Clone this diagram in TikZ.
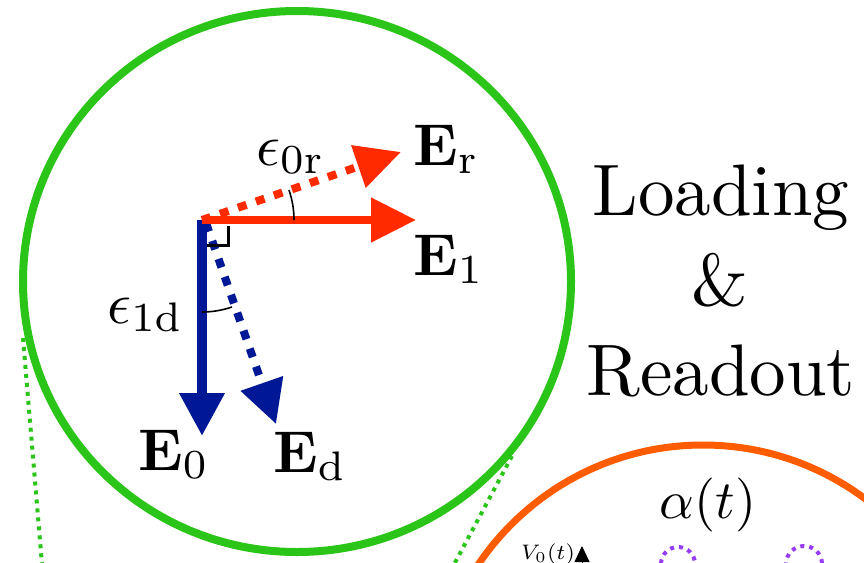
\RequirePackage{fix-cm}
\documentclass[tikz,border=0pt]{standalone}
\usepackage{graphicx}
\usetikzlibrary{arrows.meta}
\definecolor{cgreen}{RGB}{43,196,24}
\definecolor{cred}{RGB}{255,42,0}
\definecolor{cblue}{RGB}{0,24,150}
\definecolor{corange}{RGB}{255,92,0}
\definecolor{cpurple}{RGB}{150,60,245}
\begin{document}
\begin{tikzpicture}[x=1pt,y=-1pt,
  lbl/.style={inner sep=0pt, anchor=base west, font=\fontsize{10}{12}\selectfont},
  bigtxt/.style={inner sep=0pt, anchor=base, font=\fontsize{10}{12}\selectfont},
  redvec/.style={cred, line width=8pt, -{Triangle[length=45pt,width=43pt]}},
  bluevec/.style={cblue, line width=10pt, -{Triangle[length=43pt,width=43pt]}},
  dotted vec/.style={dash pattern=on 9pt off 10pt},
  anglemark/.style={black, line width=1.6pt},
  zoomline/.style={cgreen, line width=4pt, dash pattern=on 4pt off 5pt}]
\useasboundingbox (0,0) rectangle (864,562);
\clip (0,0) rectangle (864,562);
% zoom guide lines
\coordinate (gl1) at (23,338);
\coordinate (gl2) at (45,600);
\coordinate (gr1) at (512,456);
\coordinate (gr2) at (435,600);
\draw[zoomline] (gl1) -- (gl2);
\draw[zoomline] (gr1) -- (gr2);
% green circle
\coordinate (gc) at (297,281.5);
\draw[cgreen, line width=8pt] (gc) ellipse[x radius=274, y radius=270.5];
% orange circle
\coordinate (oc) at (703,716);
\draw[corange, line width=7pt] (oc) circle[radius=271];
% vectors
\coordinate (O) at (202,220);
\coordinate (Od) at (206,223);
\coordinate (T1) at (416,220);
\coordinate (Tr) at (401,152);
\coordinate (T0) at (202,436);
\coordinate (Td) at (276,424);
\draw[redvec, dotted vec] (O) -- (Tr);
\draw[bluevec, line width=8pt, dotted vec] (Od) -- (Td);
\draw[bluevec] (O) -- (T0);
\draw[redvec] (O) -- (T1);
% right angle marker
\coordinate (ra1) at (228,226);
\coordinate (ra2) at (228,245);
\coordinate (ra3) at (207,245);
\draw[anglemark, line width=3pt] (ra1) -- (ra2) -- (ra3);
% angle arcs
\draw[anglemark] ([shift={(0:92)}]O) arc[start angle=0, end angle=-19, radius=92];
\draw[anglemark] ([shift={(90:92)}]O) arc[start angle=90, end angle=71, radius=92];
% labels
\node[lbl] (lEr) at (413,165) {\scalebox{5.9}{$\mathbf{E}_{\mathrm{r}}$}};
\node[lbl] (lE1) at (413,275) {\scalebox{5.9}{$\mathbf{E}_{1}$}};
\node[lbl] (lE0) at (138,470) {\scalebox{5.9}{$\mathbf{E}_{0}$}};
\node[lbl] (lEd) at (273,472) {\scalebox{5.9}{$\mathbf{E}_{\mathrm{d}}$}};
\node[lbl] (l0r) at (256,165) {\scalebox{5.9}{$\epsilon_{0\mathrm{r}}$}};
\node[lbl] (l1d) at (107,323) {\scalebox{5.9}{$\epsilon_{1\mathrm{d}}$}};
% side text
\node[bigtxt] (t1) at (721,215) {\scalebox{7.3}{Loading}};
\node[bigtxt] (t2) at (720,305) {\scalebox{7.3}{\&}};
\node[bigtxt] (t3) at (721,395) {\scalebox{7.3}{Readout}};
% lower circle content
\node[bigtxt] (alpha) at (708,518) {\scalebox{5.4}{$\alpha(t)$}};
\node[lbl, font=\fontsize{7}{8}\selectfont] (V0) at (521,559) {\scalebox{3}{$V_0(t)$}};
\coordinate (ax1) at (582,600);
\coordinate (ax2) at (582,546);
\draw[black, line width=1pt, -{Triangle[length=16pt,width=15pt]}] (ax1) -- (ax2);
\coordinate (p1) at (678,564);
\coordinate (p2) at (804,564);
\draw[cpurple, line width=4pt, dash pattern=on 4pt off 5pt] (p1) circle[radius=17];
\draw[cpurple, line width=4pt, dash pattern=on 4pt off 5pt] (p2) circle[radius=18];
\end{tikzpicture}
\end{document}
